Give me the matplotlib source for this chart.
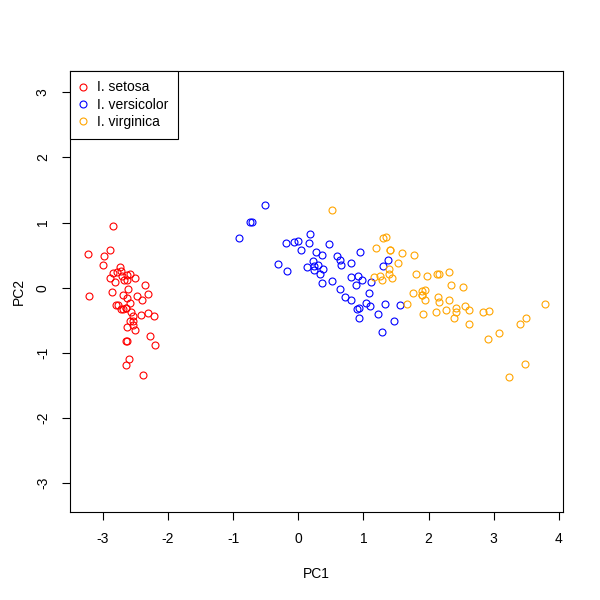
#!/usr/bin/env python3
"""PCA of the iris measurements: PC1 vs PC2 scatter, coloured by species."""

import matplotlib

matplotlib.use("Agg")
import matplotlib.pyplot as plt
from matplotlib.lines import Line2D

plt.rcParams["font.family"] = ["Liberation Sans", "DejaVu Sans"]
plt.rcParams["axes.unicode_minus"] = False

SPECIES = ["I. setosa", "I. versicolor", "I. virginica"]
COLORS = ["#FF0000", "#0000FF", "#FFA500"]

setosa_pc1 = [
    -2.684, -2.714, -2.889, -2.745, -2.729, -2.281, -2.821, -2.626, -2.886, -2.673,
    -2.507, -2.613, -2.786, -3.224, -2.645, -2.386, -2.624, -2.648, -2.200, -2.588,
    -2.310, -2.544, -3.216, -2.303, -2.356, -2.507, -2.469, -2.562, -2.640, -2.632,
    -2.587, -2.410, -2.649, -2.599, -2.637, -2.866, -2.625, -2.801, -2.981, -2.590,
    -2.770, -2.849, -2.997, -2.406, -2.210, -2.715, -2.538, -2.840, -2.543, -2.695,
]
setosa_pc2 = [
    -0.319, 0.177, 0.145, 0.318, -0.327, -0.741, 0.089, -0.163, 0.578, 0.114,
    -0.645, -0.015, 0.235, 0.511, -1.179, -1.338, -0.811, -0.312, -0.873, -0.514,
    -0.391, -0.433, -0.133, -0.099, 0.037, 0.146, -0.131, -0.368, -0.312, 0.197,
    0.204, -0.411, -0.813, -1.093, 0.121, -0.069, -0.599, -0.269, 0.488, -0.229,
    -0.264, 0.941, 0.342, -0.189, -0.437, 0.250, -0.504, 0.228, -0.579, -0.108,
]

versicolor_pc1 = [
    1.285, 0.932, 1.464, 0.183, 1.088, 0.642, 1.095, -0.749, 1.044, -0.009,
    -0.508, 0.512, 0.265, 0.985, -0.174, 0.928, 0.660, 0.236, 0.945, 0.045,
    1.116, 0.358, 1.298, 0.922, 0.715, 0.900, 1.332, 1.558, 0.813, -0.306,
    -0.068, -0.190, 0.136, 1.380, 0.588, 0.807, 1.221, 0.815, 0.246, 0.166,
    0.465, 0.891, 0.231, -0.705, 0.357, 0.332, 0.376, 0.643, -0.907, 0.299,
]
versicolor_pc2 = [
    -0.685, -0.318, -0.504, 0.828, -0.075, 0.418, -0.283, 1.005, -0.228, 0.723,
    1.266, 0.104, 0.550, 0.125, 0.255, -0.467, 0.353, 0.334, 0.543, 0.584,
    0.085, 0.069, 0.328, 0.183, -0.149, -0.329, -0.244, -0.268, 0.163, 0.368,
    0.705, 0.680, 0.314, 0.421, 0.484, -0.194, -0.408, 0.372, 0.269, 0.682,
    0.671, 0.035, 0.405, 1.012, 0.505, 0.213, 0.293, -0.018, 0.756, 0.349,
]

virginica_pc1 = [
    2.531, 1.415, 2.617, 1.972, 2.350, 3.397, 0.521, 2.933, 2.321, 2.917,
    1.662, 1.804, 2.166, 1.346, 1.586, 1.905, 1.950, 3.487, 3.796, 1.301,
    2.428, 1.199, 3.500, 1.389, 2.275, 2.614, 1.258, 1.291, 2.124, 2.388,
    2.842, 3.231, 2.159, 1.444, 1.781, 3.077, 2.144, 1.905, 1.169, 2.108,
    2.314, 1.922, 1.415, 2.563, 2.419, 1.944, 1.527, 1.764, 1.901, 1.390,
]
virginica_pc2 = [
    0.010, 0.575, -0.344, 0.180, 0.040, -0.551, 1.193, -0.356, 0.244, -0.783,
    -0.242, 0.216, -0.216, 0.777, 0.540, -0.119, -0.042, -1.176, -0.257, 0.761,
    -0.378, 0.606, -0.461, 0.205, -0.335, -0.561, 0.180, 0.117, 0.210, -0.465,
    -0.375, -1.374, 0.217, 0.143, 0.500, -0.688, -0.140, -0.049, 0.165, -0.372,
    -0.184, -0.409, 0.575, -0.278, -0.305, -0.188, 0.375, -0.079, -0.117, 0.283,
]

X_TICKS = [-3, -2, -1, 0, 1, 2, 3, 4]
Y_TICKS = [-3, -2, -1, 0, 1, 2, 3]

FS = 10
LW = 0.8
MS = 5.0


def main() -> None:
    fig = plt.figure(figsize=(6, 6), dpi=100)
    ax = fig.add_axes([0.1167, 0.1462, 0.8222, 0.736])

    groups = [
        (setosa_pc1, setosa_pc2),
        (versicolor_pc1, versicolor_pc2),
        (virginica_pc1, virginica_pc2),
    ]
    for (xs, ys), color in zip(groups, COLORS):
        ax.plot(xs, ys, linestyle="none", marker="o", markersize=MS,
                markerfacecolor="none", markeredgecolor=color, markeredgewidth=LW)

    ax.set_xlim(-3.505, 4.07)
    ax.set_ylim(-3.445, 3.33)
    ax.set_xticks(X_TICKS)
    ax.set_yticks(Y_TICKS)
    ax.set_xticklabels([str(t) for t in X_TICKS])
    ax.set_yticklabels([str(t) for t in Y_TICKS], rotation=90, va="center")

    for spine in ax.spines.values():
        spine.set_color("black")
        spine.set_linewidth(LW)
    ax.tick_params(direction="out", length=6, width=LW, colors="black", labelsize=FS)
    ax.tick_params(axis="x", pad=8)
    ax.tick_params(axis="y", pad=8.5)

    ax.set_xlabel("PC1", fontsize=FS, labelpad=15.5)
    ax.set_ylabel("PC2", fontsize=FS, labelpad=7.5)

    handles = [
        Line2D([], [], linestyle="none", marker="o", markersize=MS,
               markerfacecolor="none", markeredgecolor=c, markeredgewidth=LW)
        for c in COLORS
    ]
    leg = ax.legend(handles, SPECIES, loc="upper left", borderaxespad=0,
                    fontsize=FS, fancybox=False, framealpha=1, edgecolor="black",
                    handlelength=0.45, handletextpad=0.8, labelspacing=0.25,
                    borderpad=0.7)
    leg.get_frame().set_linewidth(LW)

    fig.savefig("out.png", dpi=100, facecolor="white")
    plt.close(fig)


if __name__ == "__main__":
    main()
